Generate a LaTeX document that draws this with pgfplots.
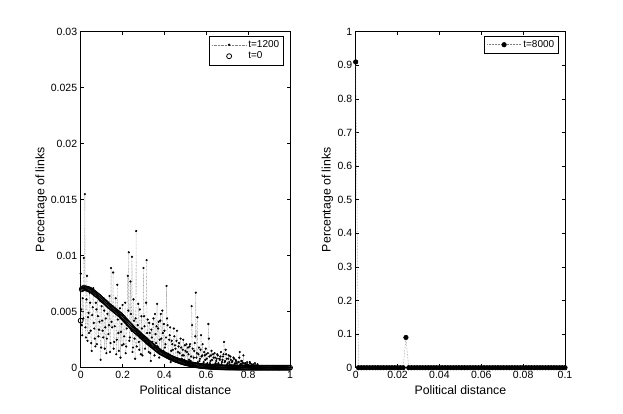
\documentclass[border=0pt]{standalone}
\usepackage{pgfplots}
\pgfplotsset{compat=1.18}
\usepackage{fontspec}
\setmainfont{Liberation Sans}

\pgfplotsset{
  mystyle/.style={
    scale only axis, width=209.3pt, height=336pt,
    anchor=south west,
    axis line style={line width=0.6pt},
    tick style={line width=0.6pt, black},
    major tick length=3.5pt,
    tick align=inside,
    scaled ticks=false,
    ticklabel style={font=\fontsize{10.5}{12}\selectfont},
    label style={font=\fontsize{12.3}{14}\selectfont},
    xlabel style={at={(axis description cs:0.5,-0.08125)}, anchor=base},
    clip=false,
    legend cell align=left,
    legend style={font=\fontsize{10}{12}\selectfont, draw=black, line width=0.6pt,
      at={(1,1)}, anchor=north east, xshift=-6pt, yshift=-4pt, inner sep=2.5pt, row sep=-1pt},
    legend image code/.code={\draw[mark repeat=2, mark phase=2, #1] plot coordinates {(0pt,0pt) (17pt,0pt) (34pt,0pt)};},
  }
}

\begin{document}
\begin{tikzpicture}
\begin{axis}[mystyle, at={(80.7pt,46.3pt)},
  xmin=0, xmax=1, ymin=0, ymax=0.03,
  xtick={0,0.2,0.4,0.6,0.8,1}, xticklabels={0,0.2,0.4,0.6,0.8,1},
  ytick={0,0.005,0.01,0.015,0.02,0.025,0.03},
  yticklabels={0,0.005,0.01,0.015,0.02,0.025,0.03},
  xlabel={Political distance}, ylabel={Percentage of links},
  ylabel style={at={(axis description cs:-0.173,0.5)}, anchor=base},
]
\addplot[densely dotted, gray, line width=0.4pt, mark=*, mark size=0.9pt, mark options={solid, black}] table[row sep=\\] {
x y\\
0.000 0.0084\\ 0.0025 0.0052\\ 0.005 0.0038\\ 0.0075 0.0029\\ 0.010 0.0062\\ 0.0125 0.0044\\
0.015 0.0098\\ 0.0175 0.0071\\ 0.020 0.0155\\ 0.0225 0.0036\\ 0.025 0.0027\\ 0.0275 0.0061\\
0.030 0.0082\\ 0.0325 0.0024\\ 0.035 0.0045\\ 0.0375 0.0049\\ 0.040 0.0031\\ 0.0425 0.0067\\
0.045 0.0058\\ 0.0475 0.0033\\ 0.050 0.0022\\ 0.0525 0.0015\\ 0.055 0.0047\\ 0.0575 0.0054\\
0.060 0.0071\\ 0.0625 0.0040\\ 0.065 0.0035\\ 0.0675 0.0026\\ 0.070 0.0019\\ 0.0725 0.0058\\
0.075 0.0052\\ 0.0775 0.0021\\ 0.080 0.0064\\ 0.0825 0.0046\\ 0.085 0.0028\\ 0.0875 0.0034\\
0.090 0.0041\\ 0.0925 0.0060\\ 0.095 0.0007\\ 0.0975 0.0018\\ 0.100 0.0055\\ 0.1025 0.0042\\
0.105 0.0033\\ 0.1075 0.0027\\ 0.110 0.0062\\ 0.1125 0.0051\\ 0.115 0.0017\\ 0.1175 0.0036\\
0.120 0.0044\\ 0.1225 0.0013\\ 0.125 0.0026\\ 0.1275 0.0048\\ 0.130 0.0058\\ 0.1325 0.0030\\
0.135 0.0038\\ 0.1375 0.0064\\ 0.140 0.0014\\ 0.1425 0.0022\\ 0.145 0.0089\\ 0.1475 0.0041\\
0.150 0.0036\\ 0.1525 0.0055\\ 0.155 0.0085\\ 0.1575 0.0017\\ 0.160 0.0023\\ 0.1625 0.0037\\
0.165 0.0051\\ 0.1675 0.0062\\ 0.170 0.0012\\ 0.1725 0.0025\\ 0.175 0.0074\\ 0.1775 0.0043\\
0.180 0.0031\\ 0.1825 0.0015\\ 0.185 0.0047\\ 0.1875 0.0053\\ 0.190 0.0009\\ 0.1925 0.0032\\
0.195 0.0039\\ 0.1975 0.0020\\ 0.200 0.0056\\ 0.2025 0.0047\\ 0.205 0.0021\\ 0.2075 0.0028\\
0.210 0.0044\\ 0.2125 0.0058\\ 0.215 0.0013\\ 0.2175 0.0019\\ 0.220 0.0035\\ 0.2225 0.0038\\
0.225 0.0082\\ 0.2275 0.0051\\ 0.230 0.0103\\ 0.2325 0.0024\\ 0.235 0.0027\\ 0.2375 0.0077\\
0.240 0.0048\\ 0.2425 0.0033\\ 0.245 0.0099\\ 0.2475 0.0014\\ 0.250 0.0018\\ 0.2525 0.0061\\
0.255 0.0042\\ 0.2575 0.0026\\ 0.260 0.0008\\ 0.2625 0.0044\\ 0.265 0.0122\\ 0.2675 0.0019\\
0.270 0.0034\\ 0.2725 0.0038\\ 0.275 0.0057\\ 0.2775 0.0023\\ 0.280 0.0016\\ 0.2825 0.0052\\
0.285 0.0029\\ 0.2875 0.0012\\ 0.290 0.0046\\ 0.2925 0.0035\\ 0.295 0.0011\\ 0.2975 0.0027\\
0.300 0.0089\\ 0.3025 0.0046\\ 0.305 0.0037\\ 0.3075 0.0017\\ 0.310 0.0024\\ 0.3125 0.0058\\
0.315 0.0096\\ 0.3175 0.0031\\ 0.320 0.0043\\ 0.3225 0.0021\\ 0.325 0.0014\\ 0.3275 0.0040\\
0.330 0.0031\\ 0.3325 0.0013\\ 0.335 0.0006\\ 0.3375 0.0034\\ 0.340 0.0027\\ 0.3425 0.0023\\
0.345 0.0039\\ 0.3475 0.0044\\ 0.350 0.0018\\ 0.3525 0.0011\\ 0.355 0.0048\\ 0.3575 0.0030\\
0.360 0.0022\\ 0.3625 0.0037\\ 0.365 0.0057\\ 0.3675 0.0019\\ 0.370 0.0035\\ 0.3725 0.0041\\
0.375 0.0009\\ 0.3775 0.0025\\ 0.380 0.0042\\ 0.3825 0.0048\\ 0.385 0.0026\\ 0.3875 0.0014\\
0.390 0.0051\\ 0.3925 0.0031\\ 0.395 0.0015\\ 0.3975 0.0039\\ 0.400 0.0033\\ 0.4025 0.0018\\
0.405 0.0021\\ 0.4075 0.0027\\ 0.410 0.0073\\ 0.4125 0.0044\\ 0.415 0.0038\\ 0.4175 0.0010\\
0.420 0.0012\\ 0.4225 0.0025\\ 0.425 0.0029\\ 0.4275 0.0036\\ 0.430 0.0005\\ 0.4325 0.0015\\
0.435 0.0024\\ 0.4375 0.0021\\ 0.440 0.0016\\ 0.4425 0.0009\\ 0.445 0.0035\\ 0.4475 0.0028\\
0.450 0.0020\\ 0.4525 0.0017\\ 0.455 0.0008\\ 0.4575 0.0024\\ 0.460 0.0033\\ 0.4625 0.0006\\
0.465 0.0014\\ 0.4675 0.0019\\ 0.470 0.0022\\ 0.4725 0.0013\\ 0.475 0.0004\\ 0.4775 0.0026\\
0.480 0.0018\\ 0.4825 0.0008\\ 0.485 0.0011\\ 0.4875 0.0016\\ 0.490 0.0025\\ 0.4925 0.0011\\
0.495 0.0007\\ 0.4975 0.0020\\ 0.500 0.0015\\ 0.5025 0.0005\\ 0.505 0.0021\\ 0.5075 0.0014\\
0.510 0.0003\\ 0.5125 0.0018\\ 0.515 0.0012\\ 0.5175 0.0007\\ 0.520 0.0019\\ 0.5225 0.0021\\
0.525 0.0006\\ 0.5275 0.0010\\ 0.530 0.0055\\ 0.5325 0.0038\\ 0.535 0.0017\\ 0.5375 0.0004\\
0.540 0.0009\\ 0.5425 0.0015\\ 0.545 0.0022\\ 0.5475 0.0028\\ 0.550 0.0067\\ 0.5525 0.0009\\
0.555 0.0013\\ 0.5575 0.0045\\ 0.560 0.0005\\ 0.5625 0.0012\\ 0.565 0.0018\\ 0.5675 0.0006\\
0.570 0.0008\\ 0.5725 0.0016\\ 0.575 0.0029\\ 0.5775 0.0010\\ 0.580 0.0011\\ 0.5825 0.0021\\
0.585 0.0003\\ 0.5875 0.0005\\ 0.590 0.0014\\ 0.5925 0.0011\\ 0.595 0.0007\\ 0.5975 0.0017\\
0.600 0.0012\\ 0.6025 0.0008\\ 0.605 0.0004\\ 0.6075 0.0013\\ 0.610 0.0039\\ 0.6125 0.0026\\
0.615 0.0010\\ 0.6175 0.0004\\ 0.620 0.0006\\ 0.6225 0.0011\\ 0.625 0.0015\\ 0.6275 0.0007\\
0.630 0.0002\\ 0.6325 0.0012\\ 0.635 0.0009\\ 0.6375 0.0003\\ 0.640 0.0013\\ 0.6425 0.0009\\
0.645 0.0004\\ 0.6475 0.0006\\ 0.650 0.0008\\ 0.6525 0.0012\\ 0.655 0.0011\\ 0.6575 0.0004\\
0.660 0.0003\\ 0.6625 0.0008\\ 0.665 0.0007\\ 0.6675 0.0010\\ 0.670 0.0014\\ 0.6725 0.0003\\
0.675 0.0005\\ 0.6775 0.0007\\ 0.680 0.0010\\ 0.6825 0.0012\\ 0.685 0.0023\\ 0.6875 0.0005\\
0.690 0.0006\\ 0.6925 0.0016\\ 0.695 0.0012\\ 0.6975 0.0008\\ 0.700 0.0003\\ 0.7025 0.0004\\
0.705 0.0008\\ 0.7075 0.0011\\ 0.710 0.0005\\ 0.7125 0.0003\\ 0.715 0.0010\\ 0.7175 0.0007\\
0.720 0.0002\\ 0.7225 0.0005\\ 0.725 0.0006\\ 0.7275 0.0002\\ 0.730 0.0009\\ 0.7325 0.0008\\
0.735 0.0003\\ 0.7375 0.0004\\ 0.740 0.0007\\ 0.7425 0.0006\\ 0.745 0.0004\\ 0.7475 0.0002\\
0.750 0.0001\\ 0.7525 0.0005\\ 0.755 0.0005\\ 0.7575 0.0009\\ 0.760 0.0014\\ 0.7625 0.0003\\
0.765 0.0003\\ 0.7675 0.0006\\ 0.770 0.0006\\ 0.7725 0.0004\\ 0.775 0.0002\\ 0.7775 0.0011\\
0.780 0.0004\\ 0.7825 0.0002\\ 0.785 0.0001\\ 0.7875 0.0004\\ 0.790 0.0003\\ 0.7925 0.0001\\
0.795 0.0005\\ 0.7975 0.0003\\ 0.800 0.0001\\ 0.8025 0.0002\\ 0.805 0.0002\\ 0.8075 0.0005\\
0.810 0.0004\\ 0.8125 0.0001\\ 0.815 0.0001\\ 0.8175 0.0003\\ 0.820 0.0002\\ 0.8225 0.0001\\
0.825 0.0003\\ 0.8275 0.0002\\ 0.830 0.0001\\ 0.8325 0.0004\\ 0.835 0.0002\\ 0.8375 0.0001\\
0.840 0.0001\\ 0.8425 0.0002\\ 0.845 0.0003\\ 0.8475 0.0001\\ 0.850 0.0001\\ 0.8525 0\\
0.855 0\\ 0.8575 0.0001\\ 0.860 0.0001\\ 0.865 0\\ 0.870 0\\
0.880 0\\ 0.890 0\\ 0.900 0\\ 0.910 0\\ 0.920 0\\ 0.930 0\\ 0.940 0\\
0.950 0\\ 0.960 0\\ 0.970 0\\ 0.980 0\\ 0.990 0\\ 1.000 0\\
};
\addlegendentry{t=1200}
\addplot[only marks, mark=o, mark size=2.5pt, mark options={black, line width=0.8pt}] table[row sep=\\] {
x y\\
0.000 0.0042\\ 0.005 0.0070\\ 0.010 0.0071\\ 0.015 0.0071\\ 0.020 0.0071\\ 0.025 0.00708\\
0.030 0.00705\\ 0.035 0.00703\\ 0.040 0.0070\\ 0.045 0.00695\\ 0.050 0.0069\\ 0.055 0.00683\\
0.060 0.00675\\ 0.065 0.00668\\ 0.070 0.0066\\ 0.075 0.00653\\ 0.080 0.00645\\ 0.085 0.00638\\
0.090 0.0063\\ 0.095 0.0062\\ 0.100 0.0061\\ 0.105 0.00603\\ 0.110 0.00595\\ 0.115 0.00588\\
0.120 0.0058\\ 0.125 0.0057\\ 0.130 0.0056\\ 0.135 0.00553\\ 0.140 0.00545\\ 0.145 0.00538\\
0.150 0.0053\\ 0.155 0.00523\\ 0.160 0.00515\\ 0.165 0.00508\\ 0.170 0.0050\\ 0.175 0.00493\\
0.180 0.00485\\ 0.185 0.00478\\ 0.190 0.0047\\ 0.195 0.0046\\ 0.200 0.0045\\ 0.205 0.0044\\
0.210 0.0043\\ 0.215 0.0042\\ 0.220 0.0041\\ 0.225 0.0040\\ 0.230 0.0039\\ 0.235 0.0038\\
0.240 0.0037\\ 0.245 0.0036\\ 0.250 0.0035\\ 0.255 0.0034\\ 0.260 0.0033\\ 0.265 0.00323\\
0.270 0.00315\\ 0.275 0.00308\\ 0.280 0.0030\\ 0.285 0.0029\\ 0.290 0.0028\\ 0.295 0.00273\\
0.300 0.00265\\ 0.305 0.00258\\ 0.310 0.0025\\ 0.315 0.0024\\ 0.320 0.0023\\ 0.325 0.00223\\
0.330 0.00215\\ 0.335 0.00208\\ 0.340 0.0020\\ 0.345 0.00193\\ 0.350 0.00185\\ 0.355 0.00178\\
0.360 0.0017\\ 0.365 0.00163\\ 0.370 0.00155\\ 0.375 0.00148\\ 0.380 0.0014\\ 0.385 0.00135\\
0.390 0.0013\\ 0.395 0.00125\\ 0.400 0.0012\\ 0.405 0.00115\\ 0.410 0.0011\\ 0.415 0.00105\\
0.420 0.0010\\ 0.425 0.00095\\ 0.430 0.0009\\ 0.435 0.00086\\ 0.440 0.00082\\ 0.445 0.00078\\
0.450 0.00074\\ 0.455 0.0007\\ 0.460 0.00067\\ 0.465 0.00064\\ 0.470 0.0006\\ 0.475 0.00057\\
0.480 0.00054\\ 0.485 0.00051\\ 0.490 0.00048\\ 0.495 0.00045\\ 0.500 0.00043\\ 0.505 0.0004\\
0.510 0.00038\\ 0.515 0.00036\\ 0.520 0.00034\\ 0.525 0.00032\\ 0.530 0.0003\\ 0.535 0.00028\\
0.540 0.00026\\ 0.545 0.00024\\ 0.550 0.00023\\ 0.555 0.00021\\ 0.560 0.0002\\ 0.565 0.00018\\
0.570 0.00017\\ 0.575 0.00016\\ 0.580 0.00015\\ 0.585 0.00014\\ 0.590 0.00013\\ 0.595 0.00012\\
0.600 0.00011\\ 0.605 0.0001\\ 0.610 0.000095\\ 0.615 0.00009\\ 0.620 0.00008\\ 0.625 0.00007\\
0.630 0.00007\\ 0.635 0.00006\\ 0.640 0.00006\\ 0.645 0.00005\\ 0.650 0.00005\\ 0.655 0.00005\\
0.660 0.000042\\ 0.665 0.00004\\ 0.670 0.000035\\ 0.675 0.00003\\ 0.680 0.00003\\ 0.685 0.00003\\
0.690 0.000025\\ 0.695 0.00002\\ 0.700 0.00002\\ 0.705 0.00002\\ 0.710 0.000017\\ 0.715 0.000015\\
0.720 0.000014\\ 0.725 0.000013\\ 0.730 0.000012\\ 0.735 0.000011\\ 0.740 0.00001\\ 0.745 0.000009\\
0.750 0.000008\\ 0.755 0.000008\\ 0.760 0.000007\\ 0.765 0.000006\\ 0.770 0.000006\\ 0.775 0.000005\\
0.780 0.000005\\ 0.785 0.000004\\ 0.790 0.000004\\ 0.795 0.000003\\ 0.800 0.000003\\ 0.805 0.000003\\
0.810 0.0000025\\ 0.815 0.000002\\ 0.820 0.000002\\ 0.825 0.000002\\ 0.830 0.0000015\\ 0.835 0.000001\\
0.840 0.000001\\ 0.845 0\\ 0.850 0\\ 0.855 0\\ 0.860 0\\ 0.865 0\\ 0.870 0\\ 0.875 0\\
0.880 0\\ 0.885 0\\ 0.890 0\\ 0.895 0\\ 0.900 0\\ 0.905 0\\ 0.910 0\\ 0.915 0\\ 0.920 0\\
0.925 0\\ 0.930 0\\ 0.935 0\\ 0.940 0\\ 0.945 0\\ 0.950 0\\ 0.955 0\\ 0.960 0\\ 0.965 0\\
0.970 0\\ 0.975 0\\ 0.980 0\\ 0.985 0\\ 0.990 0\\ 0.995 0\\ 1.000 0\\
};
\addlegendentry{t=0}
\end{axis}

\begin{axis}[mystyle, at={(355.7pt,46.3pt)},
  xmin=0, xmax=0.1, ymin=0, ymax=1,
  xtick={0,0.02,0.04,0.06,0.08,0.1}, xticklabels={0,0.02,0.04,0.06,0.08,0.1},
  ytick={0,0.1,0.2,0.3,0.4,0.5,0.6,0.7,0.8,0.9,1},
  yticklabels={0,0.1,0.2,0.3,0.4,0.5,0.6,0.7,0.8,0.9,1},
  xlabel={Political distance}, ylabel={Percentage of links},
  ylabel style={at={(axis description cs:-0.1204,0.5)}, anchor=base},
]
\addplot[densely dotted, gray, line width=0.5pt, mark=*, mark size=2.3pt, mark options={solid, black, fill=black}] table[row sep=\\] {
x y\\
0 0.91\\ 0.00133 0\\ 0.00267 0\\ 0.004 0\\ 0.00533 0\\ 0.00667 0\\ 0.008 0\\ 0.00933 0\\
0.01067 0\\ 0.012 0\\ 0.01333 0\\ 0.01467 0\\ 0.016 0\\ 0.01733 0\\ 0.01867 0\\ 0.02 0\\
0.02133 0\\ 0.02267 0\\ 0.024 0.09\\ 0.02533 0\\ 0.02667 0\\ 0.028 0\\ 0.02933 0\\ 0.03067 0\\
0.032 0\\ 0.03333 0\\ 0.03467 0\\ 0.036 0\\ 0.03733 0\\ 0.03867 0\\ 0.04 0\\ 0.04133 0\\
0.04267 0\\ 0.044 0\\ 0.04533 0\\ 0.04667 0\\ 0.048 0\\ 0.04933 0\\ 0.05067 0\\ 0.052 0\\
0.05333 0\\ 0.05467 0\\ 0.056 0\\ 0.05733 0\\ 0.05867 0\\ 0.06 0\\ 0.06133 0\\ 0.06267 0\\
0.064 0\\ 0.06533 0\\ 0.06667 0\\ 0.068 0\\ 0.06933 0\\ 0.07067 0\\ 0.072 0\\ 0.07333 0\\
0.07467 0\\ 0.076 0\\ 0.07733 0\\ 0.07867 0\\ 0.08 0\\ 0.08133 0\\ 0.08267 0\\ 0.084 0\\
0.08533 0\\ 0.08667 0\\ 0.088 0\\ 0.08933 0\\ 0.09067 0\\ 0.092 0\\ 0.09333 0\\ 0.09467 0\\
0.096 0\\ 0.09733 0\\ 0.09867 0\\ 0.1 0\\
};
\addlegendentry{t=8000}
\end{axis}
\pgfresetboundingbox
\path[use as bounding box] (0,0) rectangle (623pt,414pt);
\end{tikzpicture}
\end{document}
